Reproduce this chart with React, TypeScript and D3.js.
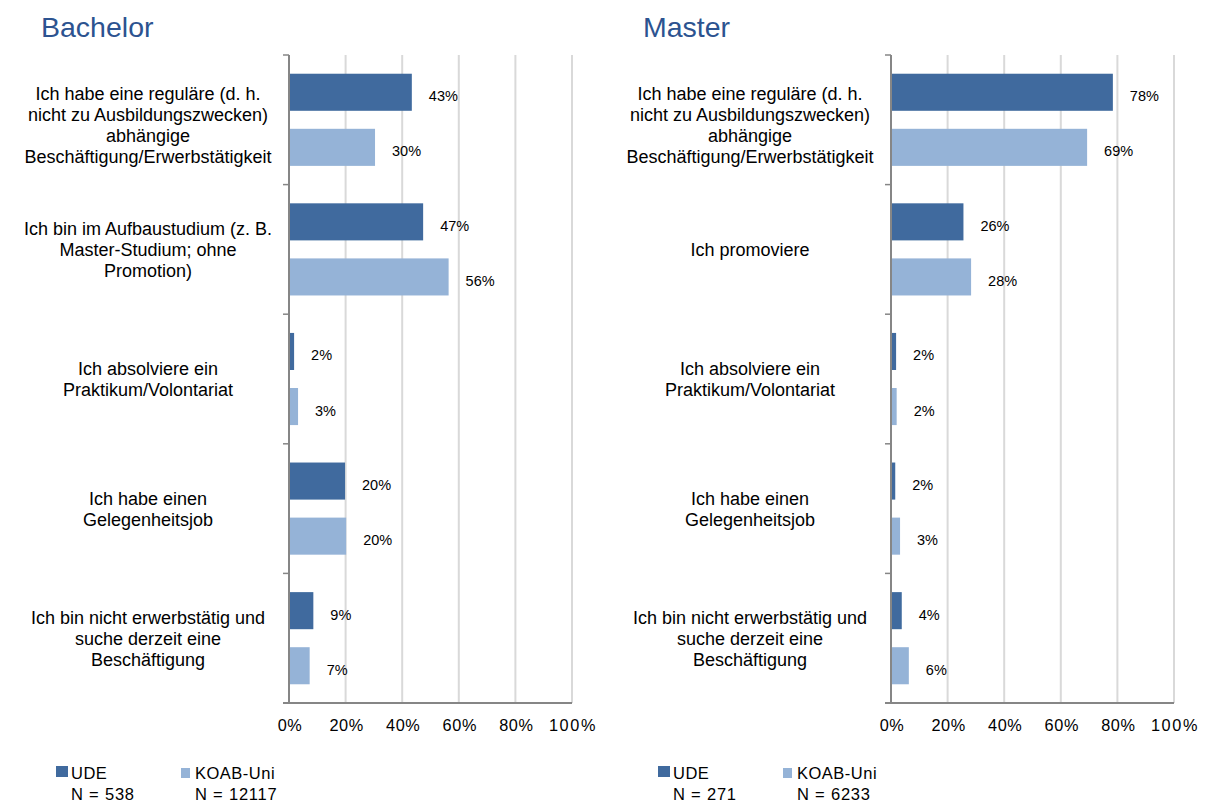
import React from 'react';
import * as d3 from 'd3';

// --- data ---
const series = ['UDE', 'KOAB-Uni'];

const bachelorCategories = [
  ['Ich habe eine reguläre (d. h.', 'nicht zu Ausbildungszwecken)', 'abhängige', 'Beschäftigung/Erwerbstätigkeit'],
  ['Ich bin im Aufbaustudium (z. B.', 'Master-Studium; ohne', 'Promotion)'],
  ['Ich absolviere ein', 'Praktikum/Volontariat'],
  ['Ich habe einen', 'Gelegenheitsjob'],
  ['Ich bin nicht erwerbstätig und', 'suche derzeit eine', 'Beschäftigung'],
];
const bachelorUDE = [43.4, 47.4, 1.8, 19.8, 8.6];
const bachelorKOAB = [30.4, 56.4, 3.2, 20.2, 7.3];
const bachelorN = ['N = 538', 'N = 12117'];

const masterCategories = [
  ['Ich habe eine reguläre (d. h.', 'nicht zu Ausbildungszwecken)', 'abhängige', 'Beschäftigung/Erwerbstätigkeit'],
  ['Ich promoviere'],
  ['Ich absolviere ein', 'Praktikum/Volontariat'],
  ['Ich habe einen', 'Gelegenheitsjob'],
  ['Ich bin nicht erwerbstätig und', 'suche derzeit eine', 'Beschäftigung'],
];
const masterUDE = [78.4, 25.6, 1.8, 1.5, 3.8];
const masterKOAB = [69.3, 28.3, 2.0, 3.2, 6.3];
const masterN = ['N = 271', 'N = 6233'];

const xTicks = [0, 20, 40, 60, 80, 100];

const DARK = '#3f6a9e';
const LIGHT = '#95b3d7';
const AXIS = '#868686';
const FONT = '"Liberation Sans", Arial, sans-serif';

type PanelProps = {
  title: string;
  left: number;
  categories: string[][];
  ude: number[];
  koab: number[];
  ns: string[];
};

function Panel({ title, left, categories, ude, koab, ns }: PanelProps) {
  const top = 55, bottom = 703, width = 283;
  const x = d3.scaleLinear().domain([0, 100]).range([left, left + width]);
  const y = d3.scaleBand<number>().domain(d3.range(categories.length)).range([top, bottom]);
  const inner = d3.scaleBand<number>().domain([0, 1]).range([0, y.bandwidth()])
    .paddingInner(0.327).paddingOuter(0.34);
  const labelX = left - 141;
  const lineH = 20.8;

  return (
    <g>
      <text x={left - 248} y={37} fontSize={28.5} fill="#2c5390" fontFamily={FONT}>{title}</text>

      {xTicks.slice(1).map((t) => (
        <line key={'g' + t} x1={x(t)} x2={x(t)} y1={top} y2={bottom} stroke="#d9d9d9" strokeWidth={2} />
      ))}

      {categories.map((lines, i) => {
        const cy = (y(i) as number) + y.bandwidth() / 2;
        // four-line labels sit a little lower in the original
        const shift = lines.length > 3 ? 5 : 0;
        const y0 = cy - ((lines.length - 1) * lineH) / 2 + 6.5 + shift;
        return (
          <text key={'c' + i} textAnchor="middle" fontSize={18} fontFamily={FONT} fill="#000">
            {lines.map((l, j) => (
              <tspan key={j} x={labelX} y={y0 + j * lineH}>{l}</tspan>
            ))}
          </text>
        );
      })}

      {[ude, koab].map((vals, s) => vals.map((v, i) => {
        const by = (y(i) as number) + (inner(s) as number);
        return (
          <g key={'b' + s + '-' + i}>
            <rect x={x(0)} y={by} width={x(v) - x(0)} height={inner.bandwidth()}
              fill={s === 0 ? DARK : LIGHT} filter={s === 0 ? 'url(#soft)' : undefined} />
            <text x={x(v) + 17} y={by + inner.bandwidth() / 2 + 9}
              fontSize={14.5} fontFamily={FONT} fill="#000">{Math.round(v) + '%'}</text>
          </g>
        );
      }))}

      {/* y axis */}
      <line x1={left} x2={left} y1={top} y2={bottom} stroke={AXIS} strokeWidth={2} />
      {d3.range(categories.length).map((i) => {
        const ty = top + i * y.step();
        return <line key={'t' + i} x1={left - 6} x2={left} y1={ty} y2={ty} stroke={AXIS} strokeWidth={1.5} />;
      })}
      {/* x axis */}
      <line x1={left - 6} x2={x(100)} y1={bottom} y2={bottom} stroke={AXIS} strokeWidth={2} />
      {xTicks.map((t) => (
        <text key={'x' + t} x={x(t) + 1} y={bottom + 28} textAnchor="middle"
          fontSize={16.3} fontFamily={FONT} fill="#000" letterSpacing={t === 100 ? 1.6 : 0.6}>{t + '%'}</text>
      ))}

      {/* legend */}
      {series.map((name, s) => {
        const lx = left - 233 + s * 124;
        return (
          <g key={'l' + s}>
            {s === 0
              ? <rect x={lx} y={766} width={12} height={11} fill={DARK} filter="url(#soft)" />
              : <rect x={lx + 1} y={768} width={9} height={10} fill={LIGHT} />}
            <text x={lx + 15} y={779} fontSize={16.5} fontFamily={FONT} fill="#000" letterSpacing={0.5}>{name}</text>
            <text x={lx + 15} y={800} fontSize={16.5} fontFamily={FONT} fill="#000" letterSpacing={0.8}>{ns[s]}</text>
          </g>
        );
      })}
    </g>
  );
}

export default function App() {
  return (
    <div style={{ position: 'absolute', left: 0, top: 0 }}>
      <svg width={1207} height={803} style={{ display: 'block', background: '#fff' }}>
        <defs>
          <filter id="soft" x="-10%" y="-10%" width="120%" height="120%">
            <feGaussianBlur stdDeviation="0.7" />
          </filter>
        </defs>
        <Panel title="Bachelor" left={289} categories={bachelorCategories} ude={bachelorUDE} koab={bachelorKOAB} ns={bachelorN} />
        <Panel title="Master" left={891} categories={masterCategories} ude={masterUDE} koab={masterKOAB} ns={masterN} />
      </svg>
    </div>
  );
}
